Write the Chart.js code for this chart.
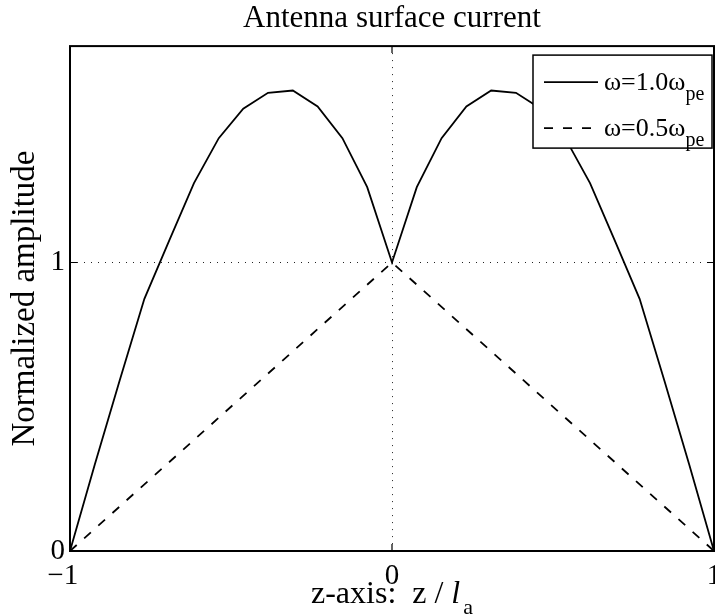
<!DOCTYPE html>
<html>
<head>
<meta charset="utf-8">
<title>Antenna surface current</title>
<script src="https://cdn.jsdelivr.net/npm/chart.js@4.4.1/dist/chart.umd.min.js"></script>
<style>
    html, body { margin: 0; padding: 0; background: #fff; }
    #wrap { width: 715px; height: 615px; }
</style>
</head>
<body>
<div id="wrap"><canvas id="currentChart" width="715" height="615"></canvas></div>
<script>
// 数据
const zPos = [-1, -0.923, -0.846, -0.769, -0.692, -0.615, -0.538, -0.462, -0.385, -0.308, -0.231, -0.154, -0.077,
    0, 0.077, 0.154, 0.231, 0.308, 0.385, 0.462, 0.538, 0.615, 0.692, 0.769, 0.846, 0.923, 1];
const ampFull = [0, 0.30, 0.59, 0.874, 1.076, 1.275, 1.431, 1.533, 1.588, 1.596, 1.541, 1.431, 1.261,
    1.0, 1.261, 1.431, 1.541, 1.596, 1.588, 1.533, 1.431, 1.275, 1.076, 0.874, 0.59, 0.30, 0];
const zHalf = [-1, 0, 1];
const ampHalf = [0, 1, 0];

const xTicks = [-1, 0, 1];
const yTicks = [0, 1];
const xTickLabels = ['\u22121  ', '0', '1'];   // 负号左悬，和原图一样
const yTickLabels = ['0', '1'];
const seriesLabels = ['\u03c9=1.0\u03c9', '\u03c9=0.5\u03c9'];
const seriesSub = ['pe', 'pe'];

const serif = '"Liberation Serif", "Times New Roman", serif';

// 坐标框、网格、刻度、图例、x 轴标题
const matlabAxes = {
    id: 'matlabAxes',
    beforeDatasetsDraw(chart) {
        const {ctx, chartArea: a, scales: {x, y}} = chart;
        ctx.save();
        ctx.strokeStyle = '#222';
        ctx.lineWidth = 1;
        ctx.setLineDash([1, 6]);
        xTicks.forEach(v => {
            if (v === x.min || v === x.max) return;
            const px = Math.round(x.getPixelForValue(v)) + 0.5;
            ctx.beginPath();
            ctx.moveTo(px, a.top);
            ctx.lineTo(px, a.bottom);
            ctx.stroke();
        });
        yTicks.forEach(v => {
            if (v === y.min || v === y.max) return;
            const py = Math.round(y.getPixelForValue(v)) + 0.5;
            ctx.beginPath();
            ctx.moveTo(a.left, py);
            ctx.lineTo(a.right, py);
            ctx.stroke();
        });
        ctx.restore();
    },
    afterDatasetsDraw(chart) {
        const {ctx, chartArea: a, scales: {x, y}} = chart;
        ctx.save();
        ctx.strokeStyle = '#000';
        ctx.lineWidth = 2;
        ctx.strokeRect(a.left, a.top, a.right - a.left, a.bottom - a.top);

        // 向内的刻度线
        const tl = 7;
        ctx.lineWidth = 1.2;
        ctx.beginPath();
        xTicks.forEach(v => {
            const px = x.getPixelForValue(v);
            ctx.moveTo(px, a.bottom); ctx.lineTo(px, a.bottom - tl);
            ctx.moveTo(px, a.top); ctx.lineTo(px, a.top + tl);
        });
        yTicks.forEach(v => {
            const py = y.getPixelForValue(v);
            ctx.moveTo(a.left, py); ctx.lineTo(a.left + tl, py);
            ctx.moveTo(a.right, py); ctx.lineTo(a.right - tl, py);
        });
        ctx.stroke();

        // 图例
        const lw = 179, lh = 93;
        const lx = a.right - lw - 2, ly = a.top + 9;
        ctx.fillStyle = '#fff';
        ctx.fillRect(lx, ly, lw, lh);
        ctx.lineWidth = 1.5;
        ctx.strokeRect(lx, ly, lw, lh);
        chart.data.datasets.forEach((ds, i) => {
            const rowY = ly + 27 + i * 46;
            ctx.beginPath();
            ctx.lineWidth = ds.borderWidth;
            ctx.setLineDash(ds.borderDash || []);
            ctx.moveTo(lx + 11, rowY);
            ctx.lineTo(lx + 65, rowY);
            ctx.stroke();
            ctx.setLineDash([]);
            ctx.fillStyle = '#000';
            ctx.textAlign = 'left';
            ctx.textBaseline = 'alphabetic';
            ctx.font = '26px ' + serif;
            ctx.fillText(seriesLabels[i], lx + 71, rowY + 8);
            const w = ctx.measureText(seriesLabels[i]).width;
            ctx.font = '20px ' + serif;
            ctx.fillText(seriesSub[i], lx + 71 + w, rowY + 18);
        });
        ctx.restore();
    },
    afterDraw(chart) {
        const {ctx, chartArea: a} = chart;
        ctx.save();
        ctx.fillStyle = '#000';
        ctx.textBaseline = 'alphabetic';
        ctx.textAlign = 'left';
        const main = 'z-axis:  z / ';
        ctx.font = '32px ' + serif;
        const w1 = ctx.measureText(main).width;
        ctx.font = 'italic 32px ' + serif;
        const w2 = ctx.measureText('l').width;
        ctx.font = '22px ' + serif;
        const w3 = ctx.measureText('a').width;
        const sx = (a.left + a.right) / 2 - (w1 + w2 + 3 + w3) / 2;
        const base = a.bottom + 52;
        ctx.font = '32px ' + serif;
        ctx.fillText(main, sx, base);
        ctx.font = 'italic 32px ' + serif;
        ctx.fillText('l', sx + w1, base);
        ctx.font = '22px ' + serif;
        ctx.fillText('a', sx + w1 + w2 + 3, base + 11);
        ctx.restore();
    }
};

function initChart() {
    const ctx = document.getElementById('currentChart').getContext('2d');
    return new Chart(ctx, {
        type: 'line',
        data: {
            datasets: [{
                label: seriesLabels[0] + seriesSub[0],
                data: zPos.map((z, i) => ({x: z, y: ampFull[i]})),
                borderColor: '#000',
                borderWidth: 1.8,
                pointRadius: 0,
                tension: 0,
                fill: false
            }, {
                label: seriesLabels[1] + seriesSub[1],
                data: zHalf.map((z, i) => ({x: z, y: ampHalf[i]})),
                borderColor: '#000',
                borderWidth: 1.8,
                borderDash: [9, 10],
                pointRadius: 0,
                tension: 0,
                fill: false
            }]
        },
        options: {
            responsive: false,
            animation: false,
            layout: { padding: { left: 0, right: 1, top: 0, bottom: 0 } },
            plugins: {
                legend: { display: false },
                tooltip: { enabled: false },
                title: {
                    display: true,
                    fullSize: false,
                    text: 'Antenna surface current',
                    color: '#000',
                    font: { family: serif, size: 31, weight: 'normal', lineHeight: 1.1 },
                    padding: { top: 2, bottom: 10 }
                }
            },
            scales: {
                x: {
                    type: 'linear',
                    min: -1,
                    max: 1,
                    afterBuildTicks: s => { s.ticks = xTicks.map(v => ({value: v})); },
                    afterFit: s => { s.height = 64; s.paddingLeft = 0; s.paddingRight = 0; },
                    grid: { display: false, drawTicks: false },
                    border: { display: false },
                    ticks: {
                        color: '#000',
                        padding: 8,
                        maxRotation: 0,
                        font: { family: serif, size: 29 },
                        callback: v => xTickLabels[xTicks.indexOf(v)]
                    }
                },
                y: {
                    type: 'linear',
                    min: 0,
                    max: 1.75,
                    afterBuildTicks: s => { s.ticks = yTicks.map(v => ({value: v})); },
                    afterFit: s => { s.width = 70; s.paddingTop = 0; s.paddingBottom = 0; },
                    grid: { display: false, drawTicks: false },
                    border: { display: false },
                    ticks: {
                        color: '#000',
                        padding: 5,
                        font: { family: serif, size: 29 },
                        callback: v => yTickLabels[yTicks.indexOf(v)]
                    },
                    title: {
                        display: true,
                        text: 'Normalized amplitude',
                        color: '#000',
                        font: { family: serif, size: 33 },
                        padding: { top: 6, bottom: 0 }
                    }
                }
            }
        },
        plugins: [matlabAxes]
    });
}

document.addEventListener('DOMContentLoaded', initChart);
</script>
</body>
</html>
